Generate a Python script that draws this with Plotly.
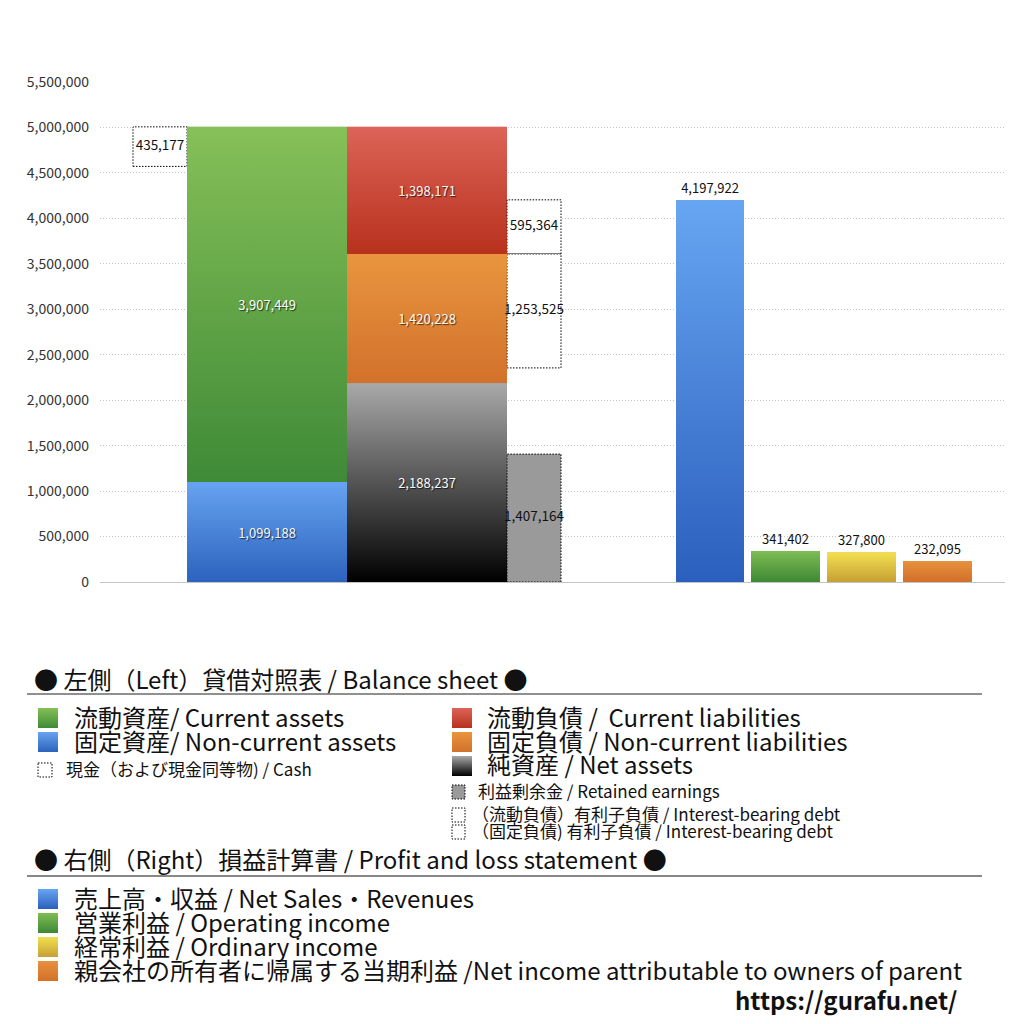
import base64
import plotly.graph_objects as go
import numpy as np

# ---------------- data ----------------
assets_labels = ["固定資産/ Non-current assets", "流動資産/ Current assets"]
assets_values = [1099188, 3907449]
liab_labels = ["純資産 / Net assets", "固定負債 / Non-current liabilities", "流動負債 /  Current liabilities"]
liab_values = [2188237, 1420228, 1398171]
cash_value = 435177
retained_earnings = 1407164
current_ib_debt = 595364
noncurrent_ib_debt = 1253525
pl_labels = ["売上高・収益 / Net Sales・Revenues", "営業利益 / Operating income",
             "経常利益 / Ordinary income", "親会社の所有者に帰属する当期利益 /Net income attributable to owners of parent"]
pl_values = [4197922, 341402, 327800, 232095]
y_ticks = list(range(0, 5500001, 500000))

# ---------------- style ----------------
FONT = "Noto Sans CJK JP"
# (top, bottom) gradient colours
assets_grad = [("#66a3f0", "#2c63be"), ("#86c058", "#3f8a37")]
liab_grad = [("#a9a9a9", "#000000"), ("#e9953e", "#d2712c"), ("#dc6458", "#b8311d")]
pl_grad = [("#67a6f2", "#2b5fbd"), ("#7fbd55", "#3e8834"), ("#f3e050", "#c5a034"), ("#e6923e", "#d36f2a")]


def mid(c):
    a, b = c
    ra, ga, ba = int(a[1:3], 16), int(a[3:5], 16), int(a[5:7], 16)
    rb, gb, bb = int(b[1:3], 16), int(b[3:5], 16), int(b[5:7], 16)
    return "#%02x%02x%02x" % ((ra + rb) // 2, (ga + gb) // 2, (ba + bb) // 2)


def grad_uri(c, opaque=False):
    top, bot = c
    if opaque:
        stops = (f"<stop offset='0' stop-color='{top}'/>"
                 f"<stop offset='1' stop-color='{bot}'/>")
    else:
        stops = (f"<stop offset='0' stop-color='{top}' stop-opacity='1'/>"
                 f"<stop offset='0.5' stop-color='{top}' stop-opacity='0'/>"
                 f"<stop offset='0.5' stop-color='{bot}' stop-opacity='0'/>"
                 f"<stop offset='1' stop-color='{bot}' stop-opacity='1'/>")
    svg = ("<svg xmlns='http://www.w3.org/2000/svg' width='10' height='100' viewBox='0 0 10 100' "
           "preserveAspectRatio='none'><defs><linearGradient id='g' x1='0' y1='0' x2='0' y2='1'>"
           + stops +
           "</linearGradient></defs><rect width='10' height='100' fill='url(#g)'/></svg>")
    return "data:image/svg+xml;base64," + base64.b64encode(svg.encode()).decode()


OFF = 8  # page body margin compensation
PL_LEFT, PL_RIGHT, PL_TOP, PL_BOTTOM = 100, 1005, 82, 582
L = PL_LEFT - OFF
T = PL_TOP - OFF
W = PL_RIGHT - PL_LEFT
H = PL_BOTTOM - PL_TOP
R = 1024 - L - W
B = 1024 - T - H
X_ASSET, W_BIG = 167, 160
X_LIAB = 327
X_CASH, W_BOX = 60, 54
X_DEBT = 434
X_PL = [610, 685.5, 761.5, 837.5]
W_PL = [68, 69, 69, 69]

fig = go.Figure()
images = []
shadow = "1px 1px 1px rgba(0,0,0,0.7)"
DOT = "1.5px,1.5px"


def box(xc, w, base, val, fill, label):
    x0, x1 = xc - w / 2, xc + w / 2
    fig.add_trace(go.Scatter(
        x=[x0, x1, x1, x0, x0], y=[base, base, base + val, base + val, base],
        mode="lines", fill="toself", fillcolor=fill,
        line=dict(color="#000", width=1, dash=DOT), hoverinfo="skip", showlegend=False))
    fig.add_trace(go.Scatter(
        x=[xc], y=[base + val / 2], mode="text", text=[label],
        textfont=dict(family=FONT, size=13.5, color="#111"), showlegend=False, hoverinfo="skip"))


def bar(xc, w, base, val, grad, name, inside=True):
    fig.add_trace(go.Bar(
        x=[xc], y=[val], base=[base], width=[w], name=name,
        marker=dict(color=mid(grad), line=dict(width=0)),
        text=[f"{val:,}"], textposition="inside" if inside else "outside",
        insidetextanchor="middle", cliponaxis=False,
        textfont=dict(family=FONT, size=13, color="white" if inside else "#111",
                      shadow=shadow if inside else "none"),
        showlegend=False))
    images.append(dict(source=grad_uri(grad), xref="x", yref="y", x=xc - w / 2, y=base + val,
                       sizex=w, sizey=val, sizing="stretch", xanchor="left", yanchor="top",
                       layer="above"))


# dotted boxes
assets_total = sum(assets_values)
liab_cum = np.cumsum([0] + liab_values)
box(X_CASH, W_BOX, assets_total - cash_value, cash_value, "white", f"{cash_value:,}")
box(X_DEBT, W_BOX, liab_cum[2], current_ib_debt, "white", f"{current_ib_debt:,}")
box(X_DEBT, W_BOX, liab_cum[2] - noncurrent_ib_debt, noncurrent_ib_debt, "white", f"{noncurrent_ib_debt:,}")
box(X_DEBT, W_BOX, 0, retained_earnings, "#9a9a9a", f"{retained_earnings:,}")

# balance sheet stacks
a_cum = np.cumsum([0] + assets_values)
for i, (lab, v) in enumerate(zip(assets_labels, assets_values)):
    bar(X_ASSET, W_BIG, a_cum[i], v, assets_grad[i], lab)
for i, (lab, v) in enumerate(zip(liab_labels, liab_values)):
    bar(X_LIAB, W_BIG, liab_cum[i], v, liab_grad[i], lab)

# P/L bars
for i, (lab, v) in enumerate(zip(pl_labels, pl_values)):
    bar(X_PL[i], W_PL[i], 0, v, pl_grad[i], lab, inside=False)

fig.update_layout(
    width=1024, height=1024, barmode="overlay",
    margin=dict(l=L, r=R, t=T, b=B, autoexpand=False),
    paper_bgcolor="white", plot_bgcolor="white",
    font=dict(family=FONT, color="#222"),
    xaxis=dict(range=[0, W], visible=False, fixedrange=True),
    yaxis=dict(range=[0, 5500000], tickvals=y_ticks,
               ticktext=[f"{t:,}" for t in y_ticks],
               tickfont=dict(family=FONT, size=14, color="#333"),
               showgrid=True, gridcolor="#c4c4c4", griddash="1px,2px", gridwidth=1,
               zeroline=True, zerolinecolor="#c4c4c4", zerolinewidth=1,
               showline=False, ticks="", ticklabelstandoff=10),
)


# ---------------- custom legend (page-pixel helpers) ----------------
def px(xp):
    return (xp - PL_LEFT) / W


def py(yp):
    return (PL_BOTTOM - yp) / H


anns = []
shapes = []
TXT_DY = 2


def text(x, y, s, size, bold=False, color="#111"):
    anns.append(dict(x=px(x), y=py(y - TXT_DY), xref="paper", yref="paper",
                     text=(f"<b>{s}</b>" if bold else s),
                     showarrow=False, xanchor="left", yanchor="middle", xshift=-2,
                     font=dict(family=FONT, size=size, color=color)))


def sq(x0, y0, x1, y1, fill, dotted=False, grad=None):
    if grad is not None:
        images.append(dict(source=grad_uri(grad, opaque=True), xref="paper", yref="paper",
                           x=px(x0), y=py(y0), sizex=px(x1) - px(x0), sizey=py(y0) - py(y1),
                           sizing="stretch", xanchor="left", yanchor="top", layer="above"))
        return
    shapes.append(dict(type="rect", xref="paper", yref="paper",
                       x0=px(x0), x1=px(x1), y0=py(y0), y1=py(y1),
                       fillcolor=fill,
                       line=dict(color="#000" if dotted else fill, width=1,
                                 dash=DOT if dotted else "solid")))


def hline(y, color, w):
    shapes.append(dict(type="line", xref="paper", yref="paper", x0=px(27), x1=px(982),
                       y0=py(y), y1=py(y), line=dict(color=color, width=w)))


BIG, SMALL = 24, 17
text(34, 680, "● 左側（Left）貸借対照表 / Balance sheet ●", BIG)
hline(694, "#222", 1.2)
sq(38, 708, 58, 728, None, grad=assets_grad[1]); text(74, 718, assets_labels[1], BIG)
sq(38, 732, 58, 752, None, grad=assets_grad[0]); text(74, 742, assets_labels[0], BIG)
sq(38, 763, 52, 777, "white", True); text(66, 770, "現金（および現金同等物) / Cash", SMALL)
sq(452, 708, 472, 728, None, grad=liab_grad[2]); text(487, 718, liab_labels[2], BIG)
sq(452, 732, 472, 752, None, grad=liab_grad[1]); text(487, 742, liab_labels[1], BIG)
sq(452, 756, 472, 776, None, grad=liab_grad[0]); text(487, 766, liab_labels[0], BIG)
sq(452, 785, 465, 799, "#9a9a9a", True); text(478, 792, "利益剰余金 / Retained earnings", SMALL)
sq(452, 808, 465, 822, "white", True); text(472, 815, "（流動負債）有利子負債 / Interest-bearing debt", SMALL)
sq(452, 825, 465, 839, "white", True); text(472, 832, "（固定負債) 有利子負債 / Interest-bearing debt", SMALL)

text(34, 860, "● 右側（Right）損益計算書 / Profit and loss statement ●", BIG)
hline(876, "#888", 2)
for i, lab in enumerate(pl_labels):
    yc = 899 + 24 * i
    sq(38, yc - 10, 58, yc + 10, None, grad=pl_grad[i])
    text(74, yc, lab, BIG)

text(735, 1001, "https://gurafu.net/", 24, bold=True)

fig.update_layout(annotations=anns, shapes=shapes, images=images)
fig.write_html("out.html")
